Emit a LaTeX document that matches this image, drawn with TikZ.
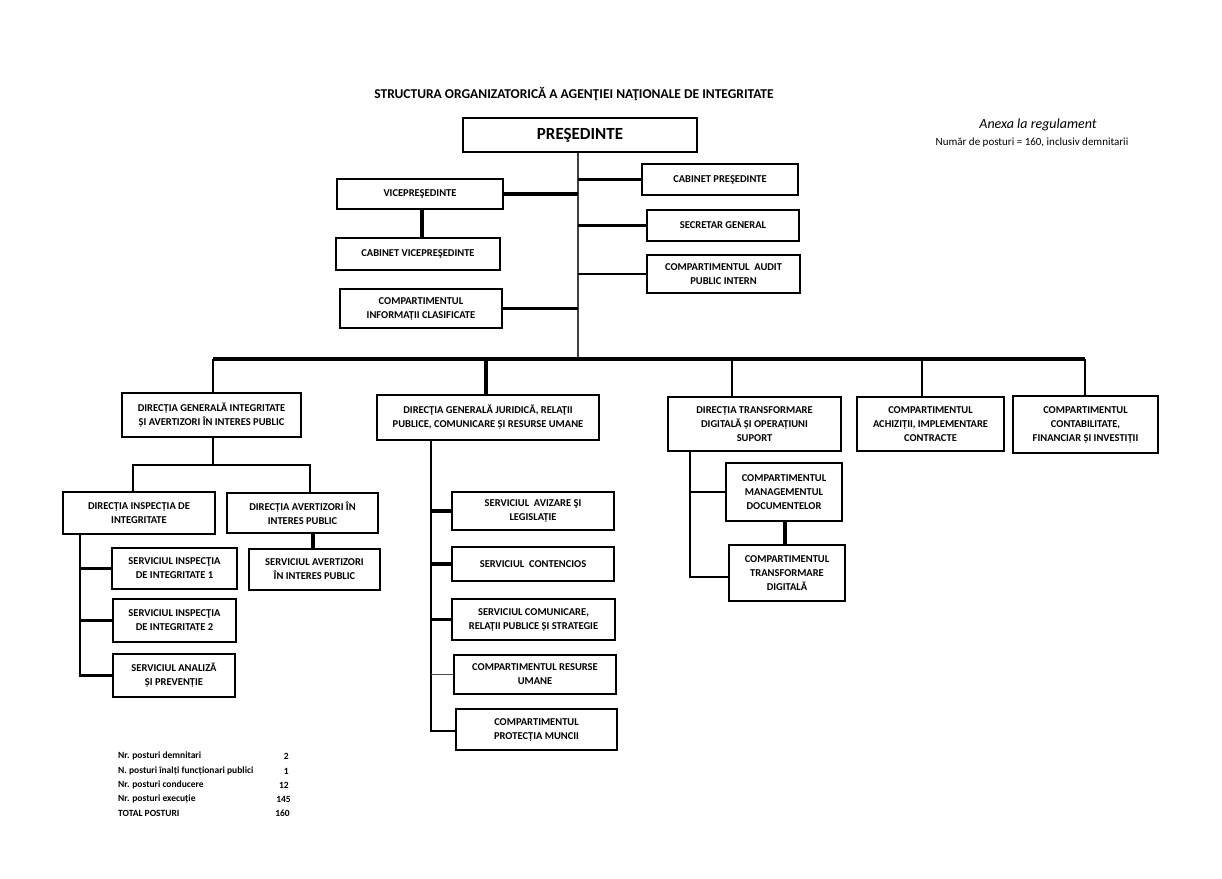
\documentclass[tikz,border=0pt]{standalone}
\usepackage{fontspec}
\setmainfont{Carlito}
\newcommand\boxfont{\bfseries\fontsize{10.5}{14}\selectfont}
\newcommand\legfont{\bfseries\fontsize{9.5}{12}\selectfont}
\tikzset{
  box/.style={draw, line width=2.4pt, align=center, font=\boxfont, inner sep=0pt},
  thickc/.style={line width=3.4pt},
  medc/.style={line width=2.6pt},
  thinc/.style={line width=1.8pt},
  trunk/.style={line width=1.6pt, draw=black!75},
  legl/.style={anchor=west, font=\legfont, inner sep=0pt},
  legn/.style={anchor=east, font=\legfont, inner sep=0pt},
}
\newcommand\mybox[6]{\node[box, minimum width={(#4-#2)*1pt}, minimum height={(#5-#3)*1pt}] (#1) at ({(#2+#4)/2},{(#3+#5)/2}) {#6};}
\begin{document}
\begin{tikzpicture}[x=1pt,y=-1pt]
\useasboundingbox (0,0) rectangle (1222,878);
\node[font=\bfseries\fontsize{13.5}{16}\selectfont] (title) at (574,94) {STRUCTURA ORGANIZATORICĂ A AGENŢIEI NAŢIONALE DE INTEGRITATE};
\node[font=\itshape\fontsize{14}{16}\selectfont] (anexa) at (1038,125) {Anexa la regulament};
\node[font=\fontsize{11}{13}\selectfont] (nr) at (1032,143) {Număr de posturi = 160, inclusiv demnitarii};

% top level
\node[box, line width=2.4pt, font=\bfseries\fontsize{17}{20}\selectfont, minimum width=234pt, minimum height=34pt] (pres) at (580,135) {PREŞEDINTE};
\mybox{cabp}{642}{164}{798}{195}{CABINET PREŞEDINTE}
\mybox{vice}{337}{179}{503}{209}{VICEPREŞEDINTE}
\mybox{cabv}{336}{238}{500}{270}{CABINET VICEPREŞEDINTE}
\mybox{secr}{647}{210}{799}{241}{SECRETAR GENERAL}
\mybox{audit}{647}{255}{800}{293}{COMPARTIMENTUL\ \ AUDIT\\PUBLIC INTERN}
\mybox{info}{340}{289}{502}{328}{COMPARTIMENTUL\\INFORMAȚII CLASIFICATE}

% level 2
\mybox{dgi}{122}{393}{301}{437}{DIRECȚIA GENERALĂ INTEGRITATE\\ȘI AVERTIZORI ÎN INTERES PUBLIC}
\mybox{dgj}{377}{395}{599}{440}{DIRECŢIA GENERALĂ JURIDICĂ, RELAŢII\\PUBLICE, COMUNICARE ȘI RESURSE UMANE}
\mybox{dt}{668}{397}{841}{451}{DIRECȚIA TRANSFORMARE\\DIGITALĂ ȘI OPERAȚIUNI\\SUPORT}
\mybox{ach}{857}{397}{1004}{451}{COMPARTIMENTUL\\ACHIZIȚII, IMPLEMENTARE\\CONTRACTE}
\mybox{cont}{1013}{396}{1158}{453}{COMPARTIMENTUL\\CONTABILITATE,\\FINANCIAR ȘI INVESTIȚII}

% level 3 left
\mybox{dii}{63}{492}{215}{534}{DIRECȚIA INSPECȚIA DE\\INTEGRITATE}
\mybox{dai}{227}{493}{378}{533}{DIRECȚIA AVERTIZORI ÎN\\INTERES PUBLIC}
\mybox{sai}{249}{549}{380}{590}{SERVICIUL AVERTIZORI\\ÎN INTERES PUBLIC}
\mybox{si1}{112}{548}{237}{589}{SERVICIUL INSPECŢIA\\DE INTEGRITATE 1}
\mybox{si2}{113}{599}{236}{642}{SERVICIUL INSPECŢIA\\DE INTEGRITATE 2}
\mybox{sap}{113}{654}{235}{697}{SERVICIUL ANALIZĂ\\ȘI PREVENȚIE}

% level 3 middle
\mybox{sav}{452}{492}{614}{530}{SERVICIUL\ \ AVIZARE ŞI\\LEGISLAȚIE}
\mybox{sc}{452}{547}{614}{581}{SERVICIUL\ \ CONTENCIOS}
\mybox{scom}{452}{599}{615}{640}{SERVICIUL COMUNICARE,\\RELAȚII PUBLICE ȘI STRATEGIE}
\mybox{cru}{454}{655}{616}{694}{COMPARTIMENTUL RESURSE\\UMANE}
\mybox{cpm}{456}{709}{617}{750}{COMPARTIMENTUL\\PROTECȚIA MUNCII}

% level 3 right
\mybox{cmd}{726}{463}{842}{521}{COMPARTIMENTUL\\MANAGEMENTUL\\DOCUMENTELOR}
\mybox{ctd}{729}{545}{845}{601}{COMPARTIMENTUL\\TRANSFORMARE\\DIGITALĂ}

% coordinates
\coordinate (trB) at (578,359);
\coordinate (busL) at (213,359);
\coordinate (busR) at (1085,359);
\coordinate (b2) at (486,359);
\coordinate (b3) at (732,359);
\coordinate (b4) at (922,359);
\coordinate (jM) at (213,465);
\coordinate (jL) at (133,465);
\coordinate (jR) at (310,465);
\coordinate (sp1) at (80,676);
\coordinate (sp2) at (431,731);
\coordinate (sp3) at (690,577);
\coordinate (vsai) at (313,540);
\coordinate (vctd) at (785,530);

% connectors top
\draw[trunk] (pres.south -| trB) -- (trB);
\draw[thickc] (cabp.west) -- (cabp.west -| trB);
\draw[thickc] (vice.east) -- (vice.east -| trB);
\draw[thickc] (secr.west) -- (secr.west -| trB);
\draw[medc] (audit.west) -- (audit.west -| trB);
\draw[thickc] (info.east) -- (info.east -| trB);
\draw[thickc] (vice.south -| 422,0) -- (cabv.north -| 422,0);

% bus
\draw[thickc] (busL) -- (busR);
\draw[medc] (busL) -- (busL |- dgi.north);
\draw[thickc] (b2) -- (b2 |- dgj.north);
\draw[medc] (b3) -- (b3 |- dt.north);
\draw[medc] (b4) -- (b4 |- ach.north);
\draw[medc] (busR) -- (busR |- cont.north);

% left branch
\draw[thinc] (dgi.south -| jM) -- (jM);
\draw[medc] (jL |- dii.north) -- (jL) -- (jR) -- (jR |- dai.north);
\draw[thickc] (dai.south -| vsai) -- (sai.north -| vsai);
\draw[medc] (dii.south -| sp1) -- (sp1 |- sap.west) -- (sap.west);
\draw[thickc] (si1.west -| sp1) -- (si1.west);
\draw[medc] (si2.west -| sp1) -- (si2.west);

% middle branch
\draw[medc] (dgj.south -| sp2) -- (sp2) -- (sp2 -| cpm.west);
\draw[thickc] (sav.west -| sp2) -- (sav.west);
\draw[thickc] (sc.west -| sp2) -- (sc.west);
\draw[thickc] (scom.west -| sp2) -- (scom.west);
\draw[thinc, draw=black!70] (cru.west -| sp2) -- (cru.west);

% right branch
\draw[thinc] (dt.south -| sp3) -- (sp3) -- (sp3 -| ctd.west);
\draw[thinc] (cmd.west -| sp3) -- (cmd.west);
\draw[line width=4pt] (cmd.south -| vctd) -- (ctd.north -| vctd);

% legend
\node[legl] (l1) at (118,756) {Nr. posturi demnitari};
\node[legl] (l2) at (118,771) {N. posturi înalți funcționari publici};
\node[legl] (l3) at (118,785) {Nr. posturi conducere};
\node[legl] (l4) at (118,799) {Nr. posturi execuție};
\node[legl] (l5) at (118,813) {TOTAL POSTURI};
\node[legn] (n1) at (289,756) {2};
\node[legn] (n2) at (289,771) {1};
\node[legn] (n3) at (289,785) {12};
\node[legn] (n4) at (291,799) {145};
\node[legn] (n5) at (290,813) {160};
\end{tikzpicture}
\end{document}
